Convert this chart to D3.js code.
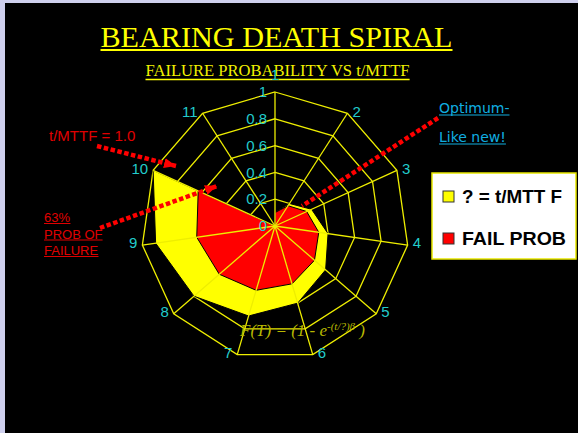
<!DOCTYPE html>
<html>
<head>
<meta charset="utf-8">
<script src="https://cdn.jsdelivr.net/npm/d3@7"></script>
<style>
  html, body { margin: 0; padding: 0; background: #cfd0ee; }
  svg { display: block; }
</style>
</head>
<body>
<div id="radar-chart" style="width:578px;height:433px"></div>
<script>
var categories = ["1", "2", "3", "4", "5", "6", "7", "8", "9", "10", "11"];
var tickValues = [0, 0.2, 0.4, 0.6, 0.8, 1];
var tickLabels = ["0", "0.2", "0.4", "0.6", "0.8", "1"];
var tMttf    = [0.1, 0.2, 0.3, 0.4, 0.5, 0.6, 0.7, 0.8, 0.9, 1.0, 0];
var failProb = [0.10, 0.18, 0.26, 0.33, 0.39, 0.45, 0.50, 0.55, 0.59, 0.63, 0];
var seriesNames = ["? = t/MTT F", "FAIL PROB"];
var seriesColors = ["#ffff00", "#ff0000"];

var dom = document.getElementById('radar-chart');
var width = 578, height = 433;

var svg = d3.select(dom)
	.append("svg")
	.attr("width", width)
	.attr("height", height);

svg.append("rect").attr("width", width).attr("height", height).attr("fill", "#cfd0ee");
svg.append("rect").attr("x", 5).attr("y", 3).attr("width", width - 5).attr("height", height - 3).attr("fill", "#000");

function underline(sel, dy, w, color) {
	var node = sel.node();
	var b = node.getBBox();
	svg.append("line")
		.attr("x1", b.x).attr("x2", b.x + b.width)
		.attr("y1", +sel.attr("y") + dy).attr("y2", +sel.attr("y") + dy)
		.attr("stroke", color).attr("stroke-width", w);
}

// titles
var title = svg.append("text")
	.attr("x", 276.5).attr("y", 47)
	.attr("text-anchor", "middle")
	.attr("font-family", "'Liberation Serif', 'Times New Roman', serif")
	.attr("font-size", 29)
	.attr("textLength", 352).attr("lengthAdjust", "spacingAndGlyphs")
	.attr("fill", "#ffff00")
	.text("BEARING DEATH SPIRAL");
underline(title, 3, 2, "#ffff00");

var subtitle = svg.append("text")
	.attr("x", 277.5).attr("y", 76)
	.attr("text-anchor", "middle")
	.attr("font-family", "'Liberation Serif', 'Times New Roman', serif")
	.attr("font-size", 16)
	.attr("textLength", 264).attr("lengthAdjust", "spacingAndGlyphs")
	.attr("fill", "#f2f200")
	.text("FAILURE PROBABILITY VS t/MTTF");
underline(subtitle, 3.5, 1.5, "#ffff00");

// radar
var cx = 275, cy = 226, R = 134;
var rScale = d3.scaleLinear().domain([0, 1]).range([0, R]);
var angle = d3.scaleLinear().domain([0, categories.length]).range([0, 2 * Math.PI]);

function pt(i, v) {
	return [cx + rScale(v) * Math.sin(angle(i)), cy - rScale(v) * Math.cos(angle(i))];
}

var g = svg.append("g");
var gridColor = "#eeee00";

// rings
g.selectAll(".ring")
	.data(tickValues.filter(function(d){ return d > 0; }))
	.enter().append("polygon")
	.attr("class", "ring")
	.attr("points", function(t){ return categories.map(function(c, i){ return pt(i, t).join(","); }).join(" "); })
	.attr("fill", "none")
	.attr("stroke", gridColor)
	.attr("stroke-width", 1.3);

// series
var radial = d3.lineRadial()
	.angle(function(d, i){ return angle(i); })
	.radius(function(d){ return rScale(d); })
	.curve(d3.curveLinearClosed);

[tMttf, failProb].forEach(function(s, k) {
	g.append("path")
		.datum(s)
		.attr("transform", "translate(" + cx + "," + cy + ")")
		.attr("d", radial)
		.attr("fill", seriesColors[k])
		.attr("stroke", "#000")
		.attr("stroke-width", 1);
});

// spokes
g.selectAll(".spoke")
	.data(categories)
	.enter().append("line")
	.attr("class", "spoke")
	.attr("x1", cx).attr("y1", cy)
	.attr("x2", function(d, i){ return pt(i, 1)[0]; })
	.attr("y2", function(d, i){ return pt(i, 1)[1]; })
	.attr("stroke", gridColor)
	.attr("stroke-width", 1.3);

// category labels
g.selectAll(".cat")
	.data(categories)
	.enter().append("text")
	.attr("class", "cat")
	.attr("font-family", "'Liberation Sans', Arial, sans-serif")
	.attr("font-size", 15)
	.attr("fill", "#22cccc")
	.each(function(d, i) {
		var p = pt(i, 1), s = Math.sin(angle(i));
		var t = d3.select(this).text(d);
		if (Math.abs(s) < 0.1) {
			t.attr("x", p[0]).attr("y", p[1] - 17).attr("dy", "0.35em").attr("text-anchor", "middle");
		} else {
			t.attr("x", p[0] + (s > 0 ? 5 : -5)).attr("y", p[1] - 2).attr("dy", "0.35em")
				.attr("text-anchor", s > 0 ? "start" : "end");
		}
	});

// radial tick labels
g.selectAll(".tick")
	.data(tickValues)
	.enter().append("text")
	.attr("class", "tick")
	.attr("x", cx - 8)
	.attr("y", function(d){ return cy - rScale(d); })
	.attr("dy", "0.35em")
	.attr("text-anchor", "end")
	.attr("font-family", "'Liberation Sans', Arial, sans-serif")
	.attr("font-size", 15)
	.attr("fill", "#22cccc")
	.text(function(d, i){ return tickLabels[i]; });

// formula
var formula = svg.append("text")
	.attr("x", 240).attr("y", 336)
	.attr("font-family", "'Liberation Serif', serif")
	.attr("font-style", "italic")
	.attr("font-size", 17)
	.attr("fill", "#b8b800");
formula.append("tspan").text("F(T) = (1 - e");
formula.append("tspan").attr("dy", -6).attr("font-size", 11).text("-(t/?)β");
formula.append("tspan").attr("dy", 6).text(" )");

// legend
var legend = svg.append("g");
legend.append("rect")
	.attr("x", 432).attr("y", 173).attr("width", 144).attr("height", 86)
	.attr("fill", "#fff").attr("stroke", "#e8e800").attr("stroke-width", 1.5);
seriesNames.forEach(function(n, k) {
	var y = 191 + k * 42;
	legend.append("rect")
		.attr("x", 443).attr("y", y).attr("width", 11).attr("height", 11)
		.attr("fill", seriesColors[k]).attr("stroke", "#333").attr("stroke-width", 1);
	legend.append("text")
		.attr("x", 462).attr("y", y + 12)
		.attr("font-family", "'Liberation Sans', Arial, sans-serif")
		.attr("font-weight", "bold")
		.attr("font-size", 18)
		.attr("textLength", k == 0 ? 100 : 104).attr("lengthAdjust", "spacingAndGlyphs")
		.attr("fill", "#000")
		.text(n);
});

// annotations
var defs = svg.append("defs");
defs.append("marker")
	.attr("id", "arrow")
	.attr("markerUnits", "userSpaceOnUse")
	.attr("markerWidth", 12).attr("markerHeight", 10)
	.attr("refX", 12).attr("refY", 5)
	.attr("orient", "auto")
	.append("path").attr("d", "M0,0 L12,5 L0,10 Z").attr("fill", "#ff0000");

function dotted(x1, y1, x2, y2, arrow) {
	var l = svg.append("line")
		.attr("x1", x1).attr("y1", y1).attr("x2", x2).attr("y2", y2)
		.attr("stroke", "#ff0000").attr("stroke-width", 4.5)
		.attr("stroke-dasharray", "4.5,2.5");
	if (arrow) l.attr("marker-end", "url(#arrow)");
}
dotted(97, 146, 176, 166, true);
dotted(100, 228, 217, 186, true);
dotted(438, 118, 302, 206, false);

svg.append("text")
	.attr("x", 49).attr("y", 141)
	.attr("font-family", "'Liberation Sans', Arial, sans-serif")
	.attr("font-size", 15).attr("fill", "#e00000")
	.text("t/MTTF = 1.0");

["63%", "PROB OF", "FAILURE"].forEach(function(s, i) {
	var t = svg.append("text")
		.attr("x", 44).attr("y", 222 + i * 16.5)
		.attr("font-family", "'Liberation Sans', Arial, sans-serif")
		.attr("font-size", 13).attr("fill", "#e00000")
		.text(s);
	underline(t, 1.5, 1, "#e00000");
});

["Optimum-", "Like new!"].forEach(function(s, i) {
	var t = svg.append("text")
		.attr("x", 439).attr("y", 113 + i * 29)
		.attr("font-family", "'DejaVu Sans', Verdana, sans-serif")
		.attr("font-size", 14).attr("fill", "#10aee0")
		.text(s);
	underline(t, 2, 1, "#10aee0");
});
</script>
</body>
</html>
